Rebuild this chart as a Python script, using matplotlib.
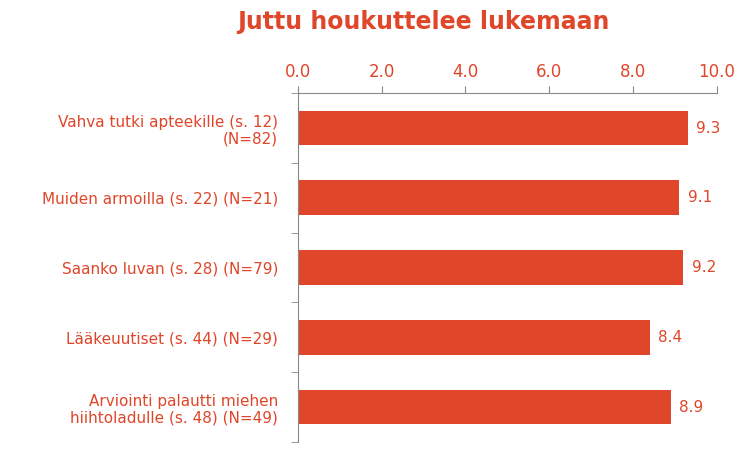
import matplotlib.pyplot as plt
import numpy as np

title = 'Juttu houkuttelee lukemaan'
categories = ['Vahva tutki apteekille (s. 12)\n(N=82)',
              'Muiden armoilla (s. 22) (N=21)',
              'Saanko luvan (s. 28) (N=79)',
              'Lääkeuutiset (s. 44) (N=29)',
              'Arviointi palautti miehen\nhiihtoladulle (s. 48) (N=49)']
values = [9.3, 9.1, 9.2, 8.4, 8.9]
ticks = [0, 2, 4, 6, 8, 10]

red = '#E0462A'
plt.rcParams['font.family'] = 'DejaVu Sans'

fig = plt.figure(figsize=(7.5, 4.5), dpi=100)
ax = fig.add_axes([0.397, 0.018, 0.559, 0.775])
y = np.arange(len(categories))
ax.barh(y, values, height=0.5, color=red)
for yi, v in zip(y, values):
    ax.text(v + 0.2, yi, f'{v:.1f}', va='center', ha='left', color=red, fontsize=11)

ax.set_xlim(0, 10)
ax.set_ylim(len(categories) - 0.5, -0.5)
ax.xaxis.tick_top()
ax.set_xticks(ticks)
ax.set_xticklabels([f'{t:.1f}' for t in ticks], color=red, fontsize=12)
ax.tick_params(axis='x', colors='#888888', labelcolor=red, length=5)
ax.set_yticks(y)
ax.set_yticklabels(categories, color=red, fontsize=11)
ax.set_yticks(np.arange(len(categories) + 1) - 0.5, minor=True)
ax.tick_params(axis='y', which='major', length=0, pad=14)
ax.tick_params(axis='y', which='minor', length=5, color='#888888')
for s in ['right', 'bottom']:
    ax.spines[s].set_visible(False)
for s in ['left', 'top']:
    ax.spines[s].set_color('#888888')

fig.text(0.565, 0.95, title, ha='center', va='center', color=red,
         fontsize=17, fontweight='bold')
fig.savefig('out.png')
